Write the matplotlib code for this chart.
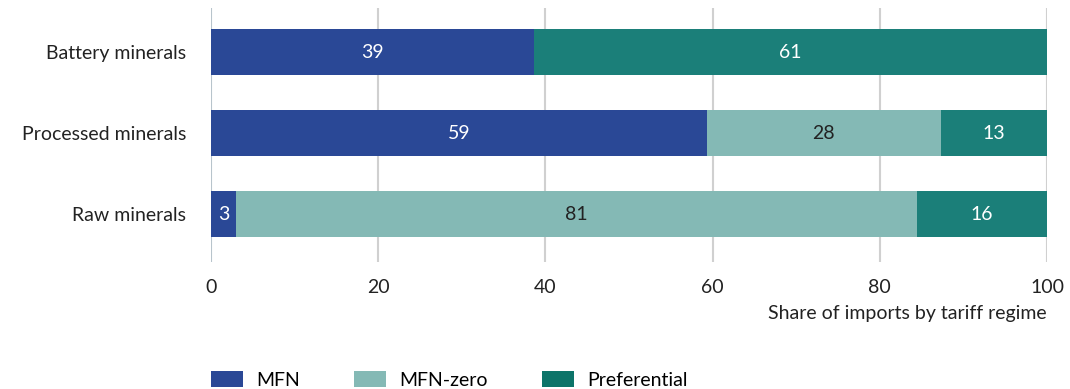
import matplotlib.pyplot as plt
from matplotlib.patches import Patch

plt.rcParams['font.family'] = ['Lato', 'DejaVu Sans']

categories = ['Battery minerals', 'Processed minerals', 'Raw minerals']
regimes = ['MFN', 'MFN-zero', 'Preferential']
mfn = [38.6, 59.3, 3.0]
mfn_zero = [0.0, 28.0, 81.4]
preferential = [61.4, 12.7, 15.6]
x_ticks = [0, 20, 40, 60, 80, 100]

colors = ['#2a4896', '#84b9b5', '#1b7f79']
text_colors = ['white', '#222222', 'white']
fs = 14

fig = plt.figure(figsize=(10.7, 3.89), dpi=100)
ax = fig.add_axes([0.1972, 0.3265, 0.7813, 0.653])

series = [mfn, mfn_zero, preferential]
left = [0.0] * len(categories)
for vals, col, tcol in zip(series, colors, text_colors):
    bars = ax.barh(range(len(categories)), vals, left=left, height=0.56,
                   color=col, zorder=3)
    for i, (b, v) in enumerate(zip(bars, vals)):
        if v > 0:
            ax.text(left[i] + v / 2, i, f'{v:.0f}', ha='center', va='center',
                    color=tcol, fontsize=fs, zorder=4)
    left = [l + v for l, v in zip(left, vals)]

ax.set_xlim(0, 100)
ax.set_ylim(2.59, -0.545)
ax.set_yticks(range(len(categories)))
ax.set_yticklabels(categories, fontsize=fs, color='#222222')
ax.set_xticks(x_ticks)
ax.set_xticklabels([str(t) for t in x_ticks], fontsize=fs, color='#222222')
ax.tick_params(length=0, pad=18, axis='y')
ax.tick_params(length=0, pad=12, axis='x')

for t in x_ticks:
    ax.axvline(t, color='#b8c4cc' if t == 0 else '#d0d0d0', lw=1.5, zorder=1)
for s in ax.spines.values():
    s.set_visible(False)

fig.text(1047 / 1070, 1 - 314 / 389, 'Share of imports by tariff regime',
         ha='right', va='center', fontsize=fs, color='#222222')

handles = [Patch(facecolor=c, edgecolor='none', label=r) for c, r in zip(colors, regimes)]
handles[2] = Patch(facecolor='#0c7469', edgecolor='none', label=regimes[2])
fig.legend(handles=handles, loc='center left', bbox_to_anchor=(211 / 1070, 1 - 380 / 389),
           ncol=3, frameon=False, fontsize=fs, handlelength=1.65, handleheight=0.85,
           handletextpad=0.7, columnspacing=2.75, borderpad=0, borderaxespad=0)

fig.savefig('out.png', dpi=100)
